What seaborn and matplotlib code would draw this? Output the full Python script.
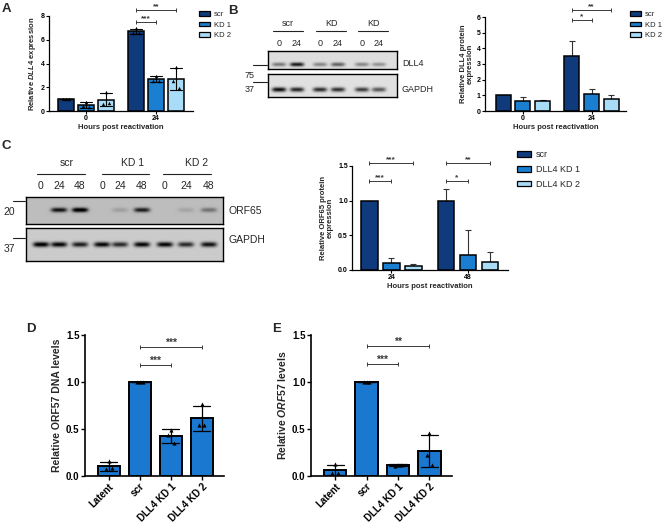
import numpy as np
import pandas as pd
import matplotlib.pyplot as plt
import seaborn as sns
from matplotlib.patches import Patch
from matplotlib.lines import Line2D

sns.set_style("ticks")
plt.rcParams['font.family'] = ['Liberation Sans', 'DejaVu Sans']
plt.rcParams['mathtext.fontset'] = 'custom'
plt.rcParams['mathtext.it'] = 'Liberation Sans:italic:bold'
plt.rcParams['mathtext.rm'] = 'Liberation Sans:bold'

W, H = 671, 531

# ---------------- data ----------------
hours_ab = ['0', '24']
hours_c = ['24', '48']
groups_ab = ['scr', 'KD 1', 'KD 2']
groups_c = ['scr', 'DLL4 KD 1', 'DLL4 KD 2']

# A: relative DLL4 mRNA, three replicates per bar
a_scr = [[1.0, 1.0, 1.0], [6.95, 6.6, 6.55]]
a_kd1 = [[0.8, 0.4, 0.35], [2.95, 2.55, 2.5]]
a_kd2 = [[1.6, 0.6, 0.65], [3.7, 2.5, 1.9]]

# B: relative DLL4 protein, mean and SD
b_scr_mean, b_scr_sd = [1.0, 3.5], [0.0, 1.0]
b_kd1_mean, b_kd1_sd = [0.62, 1.07], [0.25, 0.35]
b_kd2_mean, b_kd2_sd = [0.65, 0.78], [0.05, 0.27]

# C: relative ORF65 protein, mean and SD
c_scr_mean, c_scr_sd = [1.0, 0.99], [0.0, 0.18]
c_kd1_mean, c_kd1_sd = [0.10, 0.22], [0.08, 0.35]
c_kd2_mean, c_kd2_sd = [0.06, 0.12], [0.03, 0.14]

# D / E: replicates
de_groups = ['Latent', 'scr', 'DLL4 KD 1', 'DLL4 KD 2']
d_reps = [[0.16, 0.07, 0.08], [1.0, 1.0, 1.0], [0.49, 0.44, 0.35], [0.77, 0.54, 0.54]]
e_reps = [[0.13, 0.03, 0.03], [1.0, 1.0, 1.0], [0.12, 0.11, 0.12], [0.46, 0.22, 0.12]]

# western blot band intensities (0 = no band)
b_lanes = ['0', '24', '0', '24', '0', '24']
b_dll4_bands = [0.4, 0.8, 0.35, 0.5, 0.35, 0.3]
b_gapdh_bands = [0.85, 0.75, 0.72, 0.7, 0.65, 0.55]
c_lanes = ['0', '24', '48', '0', '24', '48', '0', '24', '48']
c_orf65_bands = [0.0, 0.7, 0.85, 0.0, 0.12, 0.65, 0.0, 0.1, 0.3]
c_gapdh_bands = [0.85, 0.8, 0.7, 0.8, 0.65, 0.8, 0.8, 0.65, 0.75]

palette3 = ['#0f3b7d', '#1a7fd0', '#a9dcf6']
blue = '#1a78d0'

fig = plt.figure(figsize=(W / 100, H / 100), dpi=100)


def rect(l, t, r, b):
    return [l / W, 1 - b / H, (r - l) / W, (b - t) / H]


def ftext(x, y, s, **kw):
    kw.setdefault('va', 'center')
    fig.text(x / W, 1 - y / H, s, **kw)


def fline(x1, x2, y, lw=0.8):
    fig.add_artist(Line2D([x1 / W, x2 / W], [1 - y / H, 1 - y / H],
                          transform=fig.transFigure, color='#222', lw=lw))


def style_axis(ax, tick_fs):
    sns.despine(ax=ax)
    for s in ['left', 'bottom']:
        ax.spines[s].set_linewidth(0.9)
        ax.spines[s].set_color('black')
    ax.tick_params(labelsize=tick_fs, length=2, width=0.8, pad=1, colors='black')
    for lab in ax.get_xticklabels() + ax.get_yticklabels():
        lab.set_fontweight('bold')


def bar_centers(ax):
    ps = sorted(ax.patches, key=lambda p: p.get_x())
    return [p.get_x() + p.get_width() / 2 for p in ps]


def bracket(ax, x1, x2, y, label, fs, ms=2.5):
    ax.plot([x1, x2], [y, y], color='#3a3a3a', lw=0.7, marker='|', ms=ms,
            mew=0.7, clip_on=False)
    ax.annotate(label, xy=((x1 + x2) / 2, y), xytext=(0, -0.3), textcoords='offset points',
                ha='center', va='bottom', fontsize=fs, fontweight='bold',
                color='#3a3a3a', annotation_clip=False)


def legend(ax, labels, x, y, fs, hl, hh, sp):
    handles = [Patch(facecolor=c, edgecolor='black', linewidth=0.9) for c in palette3]
    ax.legend(handles, labels, loc='upper left', bbox_to_anchor=(x / W, 1 - y / H),
              bbox_transform=fig.transFigure, frameon=False, fontsize=fs,
              handlelength=hl, handleheight=hh, handletextpad=0.6,
              labelspacing=sp, borderpad=0, borderaxespad=0)


def grouped(ax, hours, groups, means):
    rows = []
    for g, vals in zip(groups, means):
        for h, v in zip(hours, vals):
            rows.append({'hours': h, 'group': g, 'value': v})
    df = pd.DataFrame(rows)
    sns.barplot(data=df, x='hours', y='value', hue='group', hue_order=groups,
                order=hours, palette=palette3, errorbar=None, width=0.86, gap=0.24,
                edgecolor='black', linewidth=1.1, saturation=1, legend=False, ax=ax)


def up_errors(ax, hours, means, sds):
    xs = bar_centers(ax)
    m = [means[g][i] for i in range(len(hours)) for g in range(3)]
    s = [sds[g][i] for i in range(len(hours)) for g in range(3)]
    ax.errorbar(xs, m, yerr=[np.zeros(len(s)), s], fmt='none', ecolor='#333',
                elinewidth=0.8, capsize=2.5, capthick=0.8, zorder=0.5)
    return xs


# ---------------- A ----------------
axA = fig.add_axes(rect(49, 16, 193, 111))
rows = []
for g, reps in zip(groups_ab, [a_scr, a_kd1, a_kd2]):
    for h, vals in zip(hours_ab, reps):
        for v in vals:
            rows.append({'hours': h, 'group': g, 'value': v})
dfA = pd.DataFrame(rows)
sns.barplot(data=dfA, x='hours', y='value', hue='group', hue_order=groups_ab,
            order=hours_ab, palette=palette3, errorbar='sd', capsize=0.5,
            err_kws={'color': 'black', 'linewidth': 0.8}, width=0.86, gap=0.24,
            edgecolor='black', linewidth=1.1, saturation=1, legend=False, ax=axA)
xsA = bar_centers(axA)
k = 0
for i in range(2):
    for reps in [a_scr, a_kd1, a_kd2]:
        axA.scatter(xsA[k] + np.array([0.0, -0.04, 0.04]), reps[i], marker='^', s=6,
                    color='black', zorder=5, linewidths=0)
        k += 1
axA.set_xlim(-0.53, 1.53)
axA.set_ylim(0, 8)
axA.set_yticks([0, 2, 4, 6, 8])
axA.set_ylabel(r'Relative $\it{DLL4}$ expression', fontsize=5.5, fontweight='bold', labelpad=2)
axA.set_xlabel('Hours post reactivation', fontsize=5.5, fontweight='bold', labelpad=1)
style_axis(axA, 5)
bracket(axA, xsA[3], xsA[4], 7.5, '***', 6)
bracket(axA, xsA[3], xsA[5], 8.5, '**', 6)
legend(axA, groups_ab, 199, 11, 5.5, 1.4, 0.6, 0.45)

# ---------------- B blot ----------------
def draw_blot(l, t, r, b, lanes, bands, bg, band_y, band_w, band_h):
    ax = fig.add_axes(rect(l, t, r, b))
    xs = np.linspace(l, r, int((r - l) * 4))
    ys = np.linspace(t, b, int((b - t) * 4))
    X, Y = np.meshgrid(xs, ys)
    img = np.full(X.shape, bg)
    yc = t + band_y * (b - t)
    for xc, level in zip(lanes, bands):
        img -= level * np.exp(-((X - xc) / (band_w / 2)) ** 4) * np.exp(-((Y - yc) / (band_h / 2)) ** 2)
    ax.imshow(np.clip(img, 0, 1), cmap='gray', vmin=0, vmax=1, extent=(l, r, b, t),
              aspect='auto', interpolation='bilinear')
    ax.set_xticks([])
    ax.set_yticks([])
    for s in ax.spines.values():
        s.set_linewidth(1.0)
        s.set_color('black')
    return ax


b_lane_x = [279, 297, 320, 338, 362, 379]
draw_blot(268, 51, 397, 69, b_lane_x, b_dll4_bands, 0.87, 0.75, 14, 4)
draw_blot(268, 74, 397, 97, b_lane_x, b_gapdh_bands, 0.88, 0.68, 14, 4.5)
for name, cx, (x1, x2) in zip(['scr', 'KD', 'KD'], [288, 331, 373],
                              [(273, 303), (316, 346), (358, 388)]):
    ftext(cx, 24, name, ha='center', fontsize=6.5)
    fline(x1, x2, 31)
for x, s in zip(b_lane_x, b_lanes):
    ftext(x, 43, s, ha='center', fontsize=6.5)
ftext(402, 64, 'DLL4', ha='left', fontsize=6.5)
ftext(402, 90, 'GAPDH', ha='left', fontsize=6.5)
ftext(250, 75, '75', ha='center', fontsize=6.5)
ftext(250, 90, '37', ha='center', fontsize=6.5)
fline(253, 267, 65)
fline(253, 267, 82)

# ---------------- B chart ----------------
axB = fig.add_axes(rect(485, 17, 626, 111))
grouped(axB, hours_ab, groups_ab, [b_scr_mean, b_kd1_mean, b_kd2_mean])
xsB = up_errors(axB, hours_ab, [b_scr_mean, b_kd1_mean, b_kd2_mean],
                [b_scr_sd, b_kd1_sd, b_kd2_sd])
axB.set_xlim(-0.55, 1.5)
axB.set_ylim(0, 6)
axB.set_yticks(range(7))
axB.set_ylabel('Relative DLL4 protein\nexpression', fontsize=5.5, fontweight='bold', labelpad=2,
               linespacing=1.0)
axB.set_xlabel('Hours post reactivation', fontsize=5.5, fontweight='bold', labelpad=1)
style_axis(axB, 5)
bracket(axB, xsB[3], xsB[4], 5.8, '*', 6)
bracket(axB, xsB[3], xsB[5], 6.45, '**', 6)
legend(axB, groups_ab, 630, 11, 5.5, 1.4, 0.6, 0.45)

# ---------------- C blot ----------------
c_lane_x = [41, 59, 80, 102, 120, 142, 165, 186, 209]
draw_blot(26, 197, 223, 224, c_lane_x, c_orf65_bands, 0.74, 0.48, 16, 4.5)
draw_blot(26, 228, 223, 261, c_lane_x, c_gapdh_bands, 0.8, 0.5, 16, 5)
for name, cx, (x1, x2) in zip(['scr', 'KD 1', 'KD 2'], [67, 133, 197],
                              [(37, 85), (102, 149), (163, 211)]):
    ftext(cx, 163, name, ha='center', fontsize=7.5)
    fline(x1, x2, 174)
for x, s in zip(c_lane_x, c_lanes):
    ftext(x, 186, s, ha='center', fontsize=7.5)
ftext(228, 211, 'ORF65', ha='left', fontsize=7.5)
ftext(228, 240, 'GAPDH', ha='left', fontsize=7.5)
ftext(9, 212, '20', ha='center', fontsize=7.5)
ftext(9, 249, '37', ha='center', fontsize=7.5)
fline(13, 25, 201)
fline(13, 25, 238)

# ---------------- C chart ----------------
axC = fig.add_axes(rect(352, 166, 508, 270))
grouped(axC, hours_c, groups_c, [c_scr_mean, c_kd1_mean, c_kd2_mean])
xsC = up_errors(axC, hours_c, [c_scr_mean, c_kd1_mean, c_kd2_mean],
                [c_scr_sd, c_kd1_sd, c_kd2_sd])
axC.set_xlim(-0.51, 1.52)
axC.set_ylim(0, 1.5)
axC.set_yticks([0, 0.5, 1.0, 1.5])
axC.set_yticklabels(['0.0', '0.5', '1.0', '1.5'])
axC.set_ylabel('Relative ORF65 protein\nexpression', fontsize=5.5, fontweight='bold', labelpad=3,
               linespacing=1.0)
axC.set_xlabel('Hours post reactivation', fontsize=5.5, fontweight='bold', labelpad=1)
style_axis(axC, 5)
bracket(axC, xsC[0], xsC[1], 1.28, '***', 6)
bracket(axC, xsC[0], xsC[2], 1.54, '***', 6)
bracket(axC, xsC[3], xsC[4], 1.28, '*', 6)
bracket(axC, xsC[3], xsC[5], 1.54, '**', 6)
legend(axC, groups_c, 517, 150, 6.5, 1.5, 0.6, 0.65)


# ---------------- D / E ----------------
def single(ax, reps, ylabel):
    df = pd.DataFrame([{'group': g, 'value': v} for g, vals in zip(de_groups, reps) for v in vals])
    sns.barplot(data=df, x='group', y='value', order=de_groups, color=blue, errorbar='sd',
                capsize=0.55, err_kws={'color': 'black', 'linewidth': 0.9}, width=0.71,
                edgecolor='black', linewidth=1.4, saturation=1, ax=ax)
    xs = bar_centers(ax)
    for x, vals in zip(xs, reps):
        ax.scatter(x + np.array([0.0, -0.09, 0.09]), vals, marker='^', s=9, color='black',
                   zorder=5, linewidths=0)
    ax.set_xlim(-0.77, 3.72)
    ax.set_ylim(0, 1.5)
    ax.set_yticks([0, 0.5, 1.0, 1.5])
    ax.set_yticklabels(['0.0', '0.5', '1.0', '1.5'])
    ax.set_xlabel('')
    ax.set_ylabel(ylabel, fontsize=7.5, fontweight='bold', labelpad=3)
    style_axis(ax, 7)
    ax.tick_params(length=3, width=1)
    for s in ['left', 'bottom']:
        ax.spines[s].set_linewidth(1.2)
    for lab in ax.get_xticklabels():
        lab.set_rotation(45)
        lab.set_ha('right')
        lab.set_rotation_mode('anchor')
    return xs


axD = fig.add_axes(rect(85, 335, 224, 476))
xsD = single(axD, d_reps, 'Relative ORF57 DNA levels')
bracket(axD, xsD[1], xsD[2], 1.18, '***', 7.5, 3.5)
bracket(axD, xsD[1], xsD[3], 1.37, '***', 7.5, 3.5)

axE = fig.add_axes(rect(311, 335, 452, 476))
xsE = single(axE, e_reps, r'Relative $\it{ORF57}$ levels')
bracket(axE, xsE[1], xsE[2], 1.19, '***', 7.5, 3.5)
bracket(axE, xsE[1], xsE[3], 1.38, '**', 7.5, 3.5)

# panel letters
for s, x, y in [('A', 2, 9), ('B', 228, 11), ('C', 2, 146), ('D', 26, 329), ('E', 272, 329)]:
    ftext(x, y, s, ha='left', fontsize=9.5, fontweight='bold')

fig.savefig('out.png', dpi=100)
